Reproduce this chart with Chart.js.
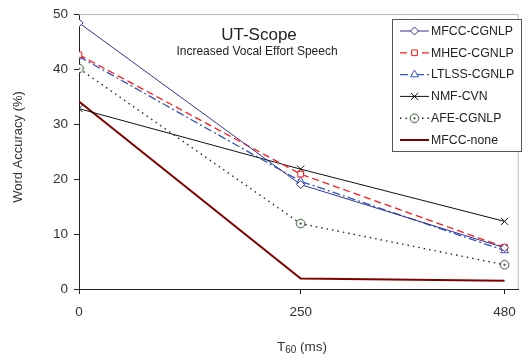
<!DOCTYPE html>
<html>
<head>
<meta charset="utf-8">
<script src="https://cdn.jsdelivr.net/npm/chart.js@4/dist/chart.umd.min.js"></script>
<style>
  html, body { margin: 0; padding: 0; background: #fff; }
  #wrap { width: 526px; height: 356px; position: relative; }
</style>
</head>
<body>
<div id="wrap"><canvas id="c"></canvas></div>
<script>
// reverberation times (ms) and the tick labels on the x axis
const t60 = [0, 250, 480];
const xTicks = [0, 250, 480];
const yTicks = [0, 10, 20, 30, 40, 50];

// word accuracy (%) per front end
const mfccCgnlp = [48.4, 19.0, 7.5];
const mhecCgnlp = [42.6, 20.9, 7.6];
const ltlssCgnlp = [42.3, 19.6, 7.0];
const nmfCvn = [32.8, 21.8, 12.3];
const afeCgnlp = [40.1, 11.9, 4.4];
const mfccNone = [34.1, 1.9, 1.5];

const font = '"Liberation Sans", Arial, sans-serif';

// circle with a dot in the middle for AFE-CGNLP
const dotCircle = document.createElement('canvas');
dotCircle.width = 11; dotCircle.height = 11;
(function () {
    const g = dotCircle.getContext('2d');
    g.strokeStyle = '#2f4f2f';
    g.fillStyle = '#fff';
    g.lineWidth = 1;
    g.beginPath(); g.arc(5.5, 5.5, 4.3, 0, Math.PI * 2); g.fill(); g.stroke();
    g.fillStyle = '#222';
    g.beginPath(); g.arc(5.5, 5.5, 1.1, 0, Math.PI * 2); g.fill();
})();

function series(label, values, color, width, dash, style, radius) {
    return {
        label: label,
        data: values.map((v, i) => ({ x: t60[i], y: v })),
        borderColor: color,
        backgroundColor: '#fff',
        borderWidth: width,
        borderDash: dash,
        pointStyle: style,
        pointRadius: radius,
        pointBorderColor: color,
        pointBackgroundColor: '#fff',
        pointBorderWidth: 1,
        tension: 0
    };
}

const datasets = [
    series('MFCC-CGNLP', mfccCgnlp, '#333399', 1, [], 'rectRot', 4),
    series('MHEC-CGNLP', mhecCgnlp, '#ff1a1a', 1.3, [7, 4], 'rect', 4),
    series('LTLSS-CGNLP', ltlssCgnlp, '#3355bb', 1.3, [8, 3, 2, 3], 'triangle', 4.5),
    series('NMF-CVN', nmfCvn, '#111111', 1, [], 'crossRot', 5),
    series('AFE-CGNLP', afeCgnlp, '#2b2b10', 1.4, [1.5, 4], dotCircle, 5),
    series('MFCC-none', mfccNone, '#800000', 2, [], false, 0)
];

// title, axis titles, frame and legend drawn inside the plot
const decorations = {
    id: 'decorations',
    afterDraw(chart) {
        const ctx = chart.ctx;
        const a = chart.chartArea;
        ctx.save();

        // light frame on top and right
        ctx.strokeStyle = '#b8b8b8';
        ctx.lineWidth = 1;
        ctx.beginPath();
        ctx.moveTo(a.left, a.top + 0.5);
        ctx.lineTo(a.right - 0.5, a.top + 0.5);
        ctx.lineTo(a.right - 0.5, a.bottom);
        ctx.stroke();

        ctx.fillStyle = '#222';
        ctx.textAlign = 'center';
        ctx.textBaseline = 'middle';
        ctx.font = '17px ' + font;
        ctx.fillText('UT-Scope', 259, 35);
        ctx.font = '12px ' + font;
        ctx.fillText('Increased Vocal Effort Speech', 257, 52);

        // axis titles
        ctx.fillStyle = '#333';
        ctx.font = '13px ' + font;
        ctx.save();
        ctx.translate(18, 147);
        ctx.rotate(-Math.PI / 2);
        ctx.fillText('Word Accuracy (%)', 0, 0);
        ctx.restore();

        ctx.textAlign = 'left';
        ctx.font = '13.5px ' + font;
        const w1 = ctx.measureText('T').width;
        ctx.font = '10px ' + font;
        const w2 = ctx.measureText('60').width;
        ctx.font = '13.5px ' + font;
        const w3 = ctx.measureText(' (ms)').width;
        let x = 302 - (w1 + w2 + w3) / 2;
        ctx.fillText('T', x, 347);
        ctx.font = '10px ' + font;
        ctx.fillText('60', x + w1, 350);
        ctx.font = '13.5px ' + font;
        ctx.fillText(' (ms)', x + w1 + w2, 347);

        // legend box
        ctx.fillStyle = '#fff';
        ctx.fillRect(392, 19, 130, 133);
        ctx.strokeStyle = '#555';
        ctx.strokeRect(392.5, 19.5, 129, 132);
        chart.data.datasets.forEach((ds, i) => {
            const y = 31 + i * 21.8;
            ctx.strokeStyle = ds.borderColor;
            ctx.lineWidth = ds.borderWidth;
            ctx.setLineDash(ds.borderDash);
            ctx.beginPath();
            ctx.moveTo(400, y);
            ctx.lineTo(429, y);
            ctx.stroke();
            ctx.setLineDash([]);
            if (ds.pointStyle) {
                ctx.strokeStyle = ds.pointBorderColor;
                ctx.fillStyle = '#fff';
                ctx.lineWidth = 1;
                Chart.helpers.drawPoint(ctx, { pointStyle: ds.pointStyle, radius: ds.pointRadius, rotation: 0, borderWidth: 1 }, 414.5, y);
            }
            ctx.fillStyle = '#222';
            ctx.font = '12.3px ' + font;
            ctx.textAlign = 'left';
            ctx.fillText(ds.label, 431, y + 0.5);
        });
        ctx.restore();
    }
};

new Chart(document.getElementById('c'), {
    type: 'line',
    data: { datasets: datasets },
    options: {
        responsive: true,
        maintainAspectRatio: false,
        animation: false,
        layout: { padding: { top: 14, right: 4, left: 0, bottom: 0 } },
        plugins: {
            legend: { display: false },
            tooltip: { enabled: false }
        },
        scales: {
            x: {
                type: 'linear',
                min: 0,
                max: 496,
                afterBuildTicks: s => { s.ticks = xTicks.map(v => ({ value: v })); },
                afterFit: s => { s.height = 67; },
                grid: { drawOnChartArea: false, tickLength: 5, color: '#222' },
                border: { color: '#222', width: 1 },
                ticks: { color: '#333', font: { family: font, size: 13.5 }, padding: 10, maxRotation: 0 }
            },
            y: {
                min: 0,
                max: 50,
                afterBuildTicks: s => { s.ticks = yTicks.map(v => ({ value: v })); },
                afterFit: s => { s.width = 79; },
                grid: { drawOnChartArea: false, tickLength: 5, color: '#222' },
                border: { color: '#222', width: 1 },
                ticks: { color: '#333', font: { family: font, size: 13.5 }, padding: 6 }
            }
        }
    },
    plugins: [decorations]
});
</script>
</body>
</html>
